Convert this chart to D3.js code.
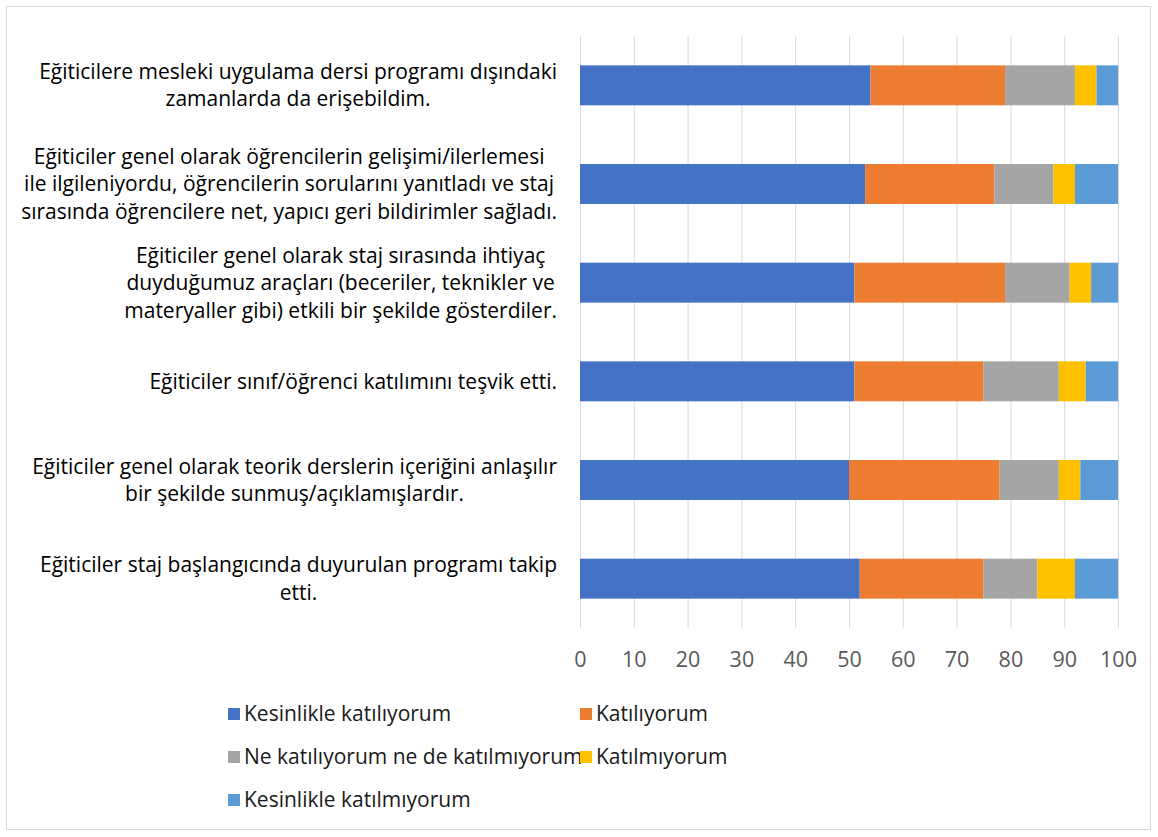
<!DOCTYPE html>
<meta charset="utf-8">
<style>
    body { margin: 0; background: #fff; }
    text { font-family: "Open Sans", "Noto Sans", sans-serif; }
    .grid line { stroke: #d9d9d9; stroke-width: 1; }
    .grid path { display: none; }
    .axis--x path, .axis--x line { display: none; }
    .axis--x text { fill: #595959; font-size: 21.5px; }
    .cat { fill: #000; font-size: 21px; }
    .legend text { fill: #1a1a1a; font-size: 21px; }
</style>
<svg width="1158" height="837"></svg>
<script src="https://d3js.org/d3.v7.min.js"></script>
<script>
    // statements, top to bottom
    var categories = [
        ["Eğiticilere mesleki uygulama dersi programı dışındaki", "zamanlarda da erişebildim."],
        ["Eğiticiler genel olarak öğrencilerin gelişimi/ilerlemesi", "ile ilgileniyordu, öğrencilerin sorularını yanıtladı ve staj", "sırasında öğrencilere net, yapıcı geri bildirimler sağladı."],
        ["Eğiticiler genel olarak staj sırasında ihtiyaç", "duyduğumuz araçları (beceriler, teknikler ve", "materyaller gibi) etkili bir şekilde gösterdiler."],
        ["Eğiticiler sınıf/öğrenci katılımını teşvik etti."],
        ["Eğiticiler genel olarak teorik derslerin içeriğini anlaşılır", "bir şekilde sunmuş/açıklamışlardır."],
        ["Eğiticiler staj başlangıcında duyurulan programı takip", "etti."]
    ];

    var seriesNames = ["Kesinlikle katılıyorum", "Katılıyorum", "Ne katılıyorum ne de katılmıyorum", "Katılmıyorum", "Kesinlikle katılmıyorum"];
    var seriesColors = ["#4472C4", "#ED7D31", "#A5A5A5", "#FFC000", "#5B9BD5"];

    // one array per series, same order as categories
    var kesinlikleKatiliyorum = [54, 53, 51, 51, 50, 52];
    var katiliyorum          = [25, 24, 28, 24, 28, 23];
    var kararsiz             = [13, 11, 12, 14, 11, 10];
    var katilmiyorum         = [4, 4, 4, 5, 4, 7];
    var kesinlikleKatilmiyorum = [4, 8, 5, 6, 7, 8];

    var xTicks = [0, 10, 20, 30, 40, 50, 60, 70, 80, 90, 100];

    var svg = d3.select("svg");

    // chart frame
    svg.append("rect")
        .attr("x", 6.5).attr("y", 6.5)
        .attr("width", 1144).attr("height", 823)
        .attr("fill", "#fff").attr("stroke", "#d9d9d9");

    var plot = {left: 580, right: 1118, top: 36, bottom: 628};

    var x = d3.scaleLinear().domain([0, 100]).range([plot.left, plot.right]);
    var y = d3.scaleBand().domain(d3.range(categories.length))
        .range([plot.top, plot.bottom]).paddingInner(0.595).paddingOuter(0.2975);

    // gridlines
    svg.append("g")
        .attr("class", "grid")
        .attr("transform", "translate(0," + plot.bottom + ")")
        .call(d3.axisBottom(x).tickValues(xTicks).tickSize(-(plot.bottom - plot.top)).tickFormat(""));

    svg.append("g")
        .attr("class", "axis axis--x")
        .attr("transform", "translate(0," + (plot.bottom + 21) + ")")
        .call(d3.axisBottom(x).tickValues(xTicks).tickSize(0));

    // stack
    var table = categories.map(function(c, i) {
        return {i: i, s0: kesinlikleKatiliyorum[i], s1: katiliyorum[i], s2: kararsiz[i], s3: katilmiyorum[i], s4: kesinlikleKatilmiyorum[i]};
    });
    var stack = d3.stack().keys(["s0", "s1", "s2", "s3", "s4"])(table);

    svg.selectAll(".series")
        .data(stack)
        .enter().append("g")
        .attr("class", "series")
        .attr("fill", function(d, k) { return seriesColors[k]; })
        .selectAll("rect")
        .data(function(d) { return d; })
        .enter().append("rect")
        .attr("x", function(d) { return x(d[0]); })
        .attr("y", function(d) { return y(d.data.i); })
        .attr("width", function(d) { return x(d[1]) - x(d[0]); })
        .attr("height", y.bandwidth());

    // category labels: each block centred on its widest line, right edge at 557
    var lineH = 27.5, rightEdge = 557;
    categories.forEach(function(lines, i) {
        var g = svg.append("g");
        var cy = y(i) + y.bandwidth() / 2;
        var texts = lines.map(function(l, j) {
            return g.append("text")
                .attr("class", "cat")
                .attr("y", cy + (j - (lines.length - 1) / 2) * lineH)
                .attr("dy", "0.35em")
                .attr("text-anchor", "middle")
                .text(l);
        });
        var maxW = d3.max(texts, function(t) { return t.node().getComputedTextLength(); });
        texts.forEach(function(t) { t.attr("x", rightEdge - maxW / 2); });
    });

    // legend
    var legendPos = [[228, 714], [580, 714], [228, 757], [580, 757], [228, 800]];
    var legend = svg.append("g").attr("class", "legend");
    seriesNames.forEach(function(name, k) {
        var p = legendPos[k];
        legend.append("rect")
            .attr("x", p[0]).attr("y", p[1] - 6)
            .attr("width", 12).attr("height", 12)
            .attr("fill", seriesColors[k]);
        legend.append("text")
            .attr("x", p[0] + 16).attr("y", p[1])
            .attr("dy", "0.35em")
            .text(name);
    });
</script>
